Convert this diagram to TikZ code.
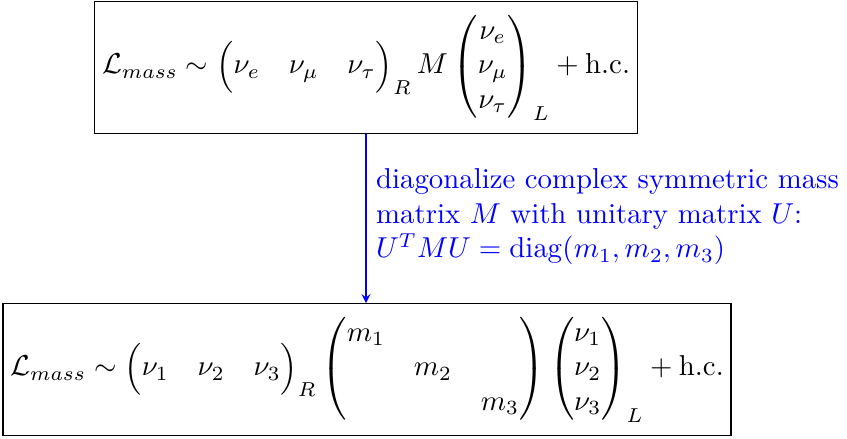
\documentclass[tikz,border=0pt]{standalone}
\usepackage{amsmath}
\usetikzlibrary{positioning}

\begin{document}
\begin{tikzpicture}[x=0.0122cm,y=-0.0122cm,>=stealth]
  \tikzstyle{eqbox}=[draw, inner xsep=2.5pt, inner ysep=4.6pt]
  \tikzstyle{steplabel}=[text=blue, align=left, anchor=west]

  \useasboundingbox (0,0) rectangle (847,438);

  \node[eqbox] (flavour) at (366,67.5) {$\displaystyle
    \mathcal{L}_{mass} \sim
    \Bigl( \begin{matrix} \nu_e & \nu_\mu & \nu_\tau \end{matrix} \Bigr)_R
    \, M
    \begin{pmatrix} \nu_e \\ \nu_\mu \\ \nu_\tau \end{pmatrix}_L
    + \text{h.c.}$};
  \node[eqbox] (masses) at (367,369.5) {$\displaystyle
    \mathcal{L}_{mass} \sim
    \Bigl( \begin{matrix} \nu_1 & \nu_2 & \nu_3 \end{matrix} \Bigr)_R
    \begin{pmatrix} m_1 & & \\ & m_2 & \\ & & m_3 \end{pmatrix}
    \begin{pmatrix} \nu_1 \\ \nu_2 \\ \nu_3 \end{pmatrix}_L
    + \text{h.c.}$};

  \draw[->, blue] (flavour) -- (flavour |- masses.north);

  \node[steplabel] (diag) at (366,217) {diagonalize complex symmetric mass\\
    matrix $M$ with unitary matrix $U$:\\
    $U^TMU = \mathrm{diag}(m_1,m_2,m_3)$};
\end{tikzpicture}
\end{document}
